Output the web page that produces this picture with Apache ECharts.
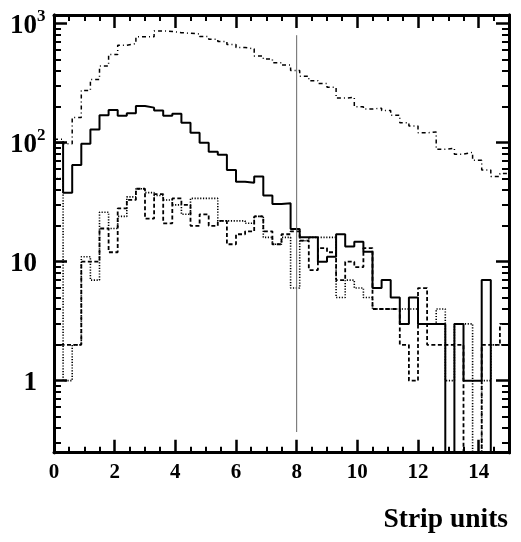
<!DOCTYPE html>
<html><head><meta charset="utf-8">
<script src="https://cdn.jsdelivr.net/npm/echarts@6/dist/echarts.min.js"></script>
<style>html,body{margin:0;padding:0;background:#fff}#c{width:521px;height:542px}</style>
</head><body><div id="c"></div>
<script>
// ---- data ----
const BIN_WIDTH = 0.3;
const X_MIN = 0, X_MAX = 15;
const Y_MIN = 0.248, Y_MAX = 1183;
const EMPTY = 0.01; // empty bin (falls below the frame)
const xTickLabels = ['0', '2', '4', '6', '8', '10', '12', '14'];
const yMajorTicks = [1, 10, 100, 1000];
const yMinorTicks = [0.3,0.4,0.5,0.6,0.7,0.8,0.9, 2,3,4,5,6,7,8,9, 20,30,40,50,60,70,80,90, 200,300,400,500,600,700,800,900];
const yTickLabels = ['1', '10', '10^2', '10^3'];

const upperDotted = [107, 98, 163, 275, 340, 440, 550, 660, 680, 775, 775, 870, 860, 840, 830, 820, 780, 740, 710, 670,
  630, 615, 535, 505, 470, 450, 405, 362, 332, 315, 292, 237, 240, 200, 192, 195, 186, 170, 147, 138,
  121, 123, 88, 90, 80, 83, 71, 59, 52, 55];
const solid = [100, 38, 65, 98, 129, 170, 188, 168, 177, 203, 197, 186, 168, 175, 147, 121, 100, 84, 79, 59,
  47, 46, 52, 36, 30.5, 31, 18.8, 16, 16, 10, 11, 17, 13.4, 14.7, 12.1, 6, 7, 5, 3, 5,
  3, 3, 3, EMPTY, 3, 1, 1, 7, EMPTY, EMPTY];
const dashed = [2, 2, 2, 10, 10, 19, 12, 28, 33, 41, 23, 37, 21, 34, 30, 20, 25, 20, 22, 14,
  17, 18, 24, 18, 14, 17, 18, 15, 8.5, 13, 12, 7, 10, 9, 13, 4, 4, 4, 2, 1,
  6, 2, 2, 2, 2, EMPTY, EMPTY, 2, 2, 3];
const lowerDotted = [50, 1, 2, 11, 7, 26, 19, 24, 35, 41, 38, 36, 33, 30, 25, 34, 34, 34, 22, 22,
  22, 21, 24, 16, 14, 16, 6, 15, 16, 16, 16, 5, 7, 6, 5, 4, 4, 4, 4, 4,
  3, 3, 4, 1, 3, 3, EMPTY, 1, 2, 2];
const cutX = [8, 8];
const cutY = [0.37, 800];

// ---- build ----
function hist(vals) {
  const pts = vals.map((v, i) => [X_MIN + i * BIN_WIDTH, v]);
  pts.push([X_MAX, vals[vals.length - 1]]);
  return pts;
}
const FONT = 'Liberation Serif';
const lg = Math.log10;
const chart = echarts.init(document.getElementById('c'), null, { renderer: 'canvas' });

function yHelper(pos, values, len, width, withLabels) {
  return {
    type: 'value', position: pos, min: lg(Y_MIN), max: lg(Y_MAX),
    axisLine: { show: true, onZero: false, lineStyle: { color: '#000', width: 3 } },
    axisTick: { show: true, inside: true, length: len, customValues: values.map(lg), lineStyle: { color: '#000', width: width } },
    axisLabel: withLabels ? {
      show: true, customValues: yMajorTicks.map(lg), align: 'left', margin: 44,
      formatter: function (v) {
        const t = yTickLabels[yMajorTicks.map(lg).findIndex(e => Math.abs(e - v) < 1e-6)] || '';
        if (t.indexOf('^') >= 0) { const p = t.split('^'); return '{b|' + p[0] + '}{s|' + p[1] + '}'; }
        if (t.length === 1) return '{one|' + t + '}';
        return '{b|' + t + '}';
      },
      rich: {
        b: { fontFamily: FONT, fontWeight: 'bold', fontSize: 27, color: '#000', padding: [5, 0, 0, 0] },
        one: { fontFamily: FONT, fontWeight: 'bold', fontSize: 27, color: '#000', width: 27, align: 'right', padding: [5, 0, 0, 0] },
        s: { fontFamily: FONT, fontWeight: 'bold', fontSize: 17, color: '#000', verticalAlign: 'top' }
      }
    } : { show: false },
    splitLine: { show: false }
  };
}
function xAx(pos, labels) {
  return {
    type: 'value', position: pos, min: X_MIN, max: X_MAX, interval: 2,
    axisLine: { show: true, onZero: false, lineStyle: { color: '#000', width: 3 } },
    axisTick: { show: true, inside: true, length: 13, lineStyle: { color: '#000', width: 2.5 } },
    minorTick: { show: true, splitNumber: 4, length: 6, lineStyle: { color: '#000', width: 2 } },
    axisLabel: labels ? {
      show: true, margin: 9, fontFamily: FONT, fontWeight: 'bold', fontSize: 21, color: '#000',
      formatter: v => xTickLabels[Math.round(v / 2)], showMaxLabel: false
    } : { show: false },
    splitLine: { show: false }
  };
}
function histSeries(name, vals, type, width) {
  return {
    name, type: 'line', step: 'end', xAxisIndex: 0, yAxisIndex: 0, data: hist(vals),
    symbol: 'none', clip: true, silent: true, animation: false,
    lineStyle: { color: '#000', width: width, type: type }
  };
}
chart.setOption({
  animation: false,
  backgroundColor: '#fff',
  title: { text: 'Strip units', right: 13, top: 506, padding: 0,
    textStyle: { fontFamily: FONT, fontWeight: 'bold', fontSize: 27.5, color: '#000' } },
  grid: { left: 54, right: 12, top: 15, bottom: 89.3, containLabel: false },
  xAxis: [xAx('bottom', true), xAx('top', false)],
  yAxis: [
    { type: 'log', logBase: 10, min: Y_MIN, max: Y_MAX, show: false },
    yHelper('left', yMajorTicks, 13, 2.5, true),
    yHelper('left', yMinorTicks, 7, 2, false),
    yHelper('right', yMajorTicks, 13, 2.5, false),
    yHelper('right', yMinorTicks, 7, 2, false)
  ],
  series: [
    histSeries('upper', upperDotted, [4, 3, 1, 3], 1.5),
    histSeries('solid', solid, 'solid', 2),
    histSeries('dashed', dashed, [4, 2.5], 1.8),
    histSeries('lower', lowerDotted, [1.2, 1.6], 1.6),
    { name: 'cut', type: 'line', xAxisIndex: 0, yAxisIndex: 0, data: cutX.map((x, i) => [x, cutY[i]]),
      symbol: 'none', silent: true, lineStyle: { color: '#666', width: 1 } }
  ]
});
</script></body></html>
